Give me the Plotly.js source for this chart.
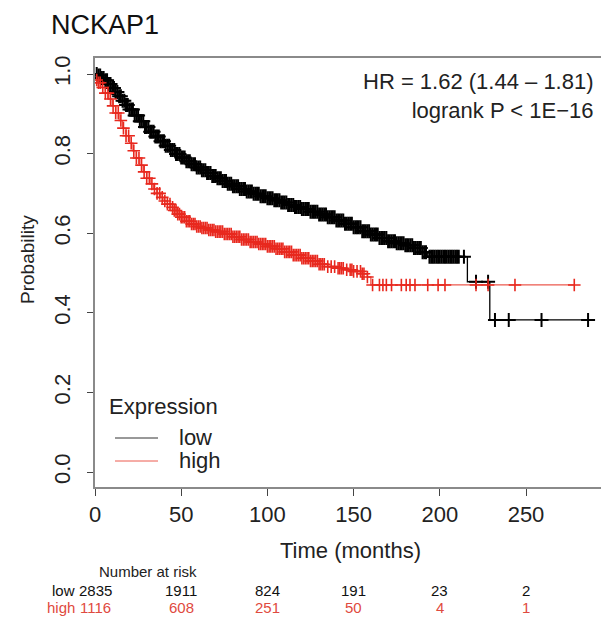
<!DOCTYPE html>
<html>
<head>
<meta charset="utf-8">
<script src="https://cdn.plot.ly/plotly-3.0.1.min.js"></script>
<style>html,body{margin:0;padding:0;background:#fff;}#chart{width:601px;height:617px;}</style>
</head>
<body>
<div id="chart"></div>
<script>
// ---- data ----
const lowTimes = [0,2,4,6,8,10,12,14,16,18,20,23,26,29,32,35,38,41,44,47,50,53,56,59,62,65,68,71,74,77,80,84,88,92,96,100,104,108,112,116,120,125,130,135,140,145,150,155,160,165,170,175,180,185,190,193,216,229,286];
const lowSurv  = [1.0,0.996,0.99,0.984,0.975,0.965,0.955,0.944,0.933,0.922,0.911,0.896,0.881,0.867,0.855,0.843,0.831,0.820,0.809,0.799,0.790,0.781,0.773,0.765,0.758,0.751,0.744,0.738,0.731,0.724,0.718,0.711,0.705,0.699,0.693,0.688,0.683,0.677,0.671,0.666,0.661,0.654,0.647,0.640,0.632,0.624,0.615,0.605,0.597,0.588,0.580,0.575,0.570,0.563,0.552,0.541,0.478,0.382,0.382];
const highTimes = [0,1,2,4,6,8,10,12,14,16,18,20,22,24,26,28,30,32,34,36,38,40,42,44,46,48,50,53,56,59,62,66,70,75,80,85,90,95,100,105,110,115,120,125,130,135,140,145,150,155,158,160,278];
const highSurv  = [1.0,0.985,0.978,0.966,0.952,0.937,0.92,0.902,0.883,0.864,0.845,0.826,0.807,0.789,0.771,0.754,0.738,0.724,0.711,0.700,0.690,0.681,0.673,0.665,0.657,0.648,0.640,0.630,0.623,0.617,0.613,0.608,0.604,0.598,0.591,0.584,0.578,0.573,0.567,0.561,0.553,0.545,0.537,0.530,0.522,0.516,0.512,0.508,0.504,0.498,0.49,0.47,0.47];
const lowCensor = [1,2,3,4,5,6,7,8,9,10,11,12,13,14,15,16,17,18,19,20,21,22,23,24,25,26,27,28,29,30,31,32,33,34,35,36,37,38,39,40,41,42,43,44,45,46,47,48,49,50,51,52,53,54,55,56,57,58,59,60,61,62,63,64,65,66,67,68,69,70,71,72,73,74,75,76,77,78,79,80,81,82,83,84,85,86,87,88,89,90,91,92,93,94,95,96,97,98,99,100,101,102,103,104,105,106,107,108,109,110,111,112,113,114,115,116,117,118,119,120,121,122,123,124,125,126,127,128,129,130,131,132,133,134,135,136,137,138,139,140,141,142,143,144,145,146,147,148,149,150,151,152,153,154,155,156,157,158,159,160,161,162,163,164,165,166,167,168,169,170,171,172,173,174,175,176,177,178,179,180,181,182,183,184,185,186,187,188,189,190,191,192,194,195,196,197,198,199,200,201,202,203,204,205,206,207,208,209,210,211,214,221,228,232,240,259,286];
const highCensor = [1,2,3,4.5,6,7.5,9,10.5,12,13.5,15,16.5,18,19.5,21,22.5,24,25.5,27,28.5,30,31.5,33,34.5,36,37.5,39,40.5,42,43.5,45,46,47,48,49,50,51,52,53,54,55,56,57,58,59,60,61,62,63,64,65,66,67,68,69,70,71,72,73,74,75,76,77,78,79,80,81,82,83,84,85,86,87,88,89,90,91,92,93,94,95,96,97,98,99,100,101,102,103,104,105,106,107,108,109,110,111,112,113,114,115,116,117,118,119,120,121,122,123,124,125,126,127,128,129,130,131,132,133,135,137,139,141,142,143,144,146,148,149,150,152,154,155,156,158,161,165,167,169,172,177.7,180.5,182.7,185.6,193,199,203,221,228,243.6,278];
const riskTimes = [0,50,100,150,200,250];
const lowRisk = [2835,1911,824,191,23,2];
const highRisk = [1116,608,251,50,4,1];
const xTicks = [0,50,100,150,200,250];
const yTicks = [0,0.2,0.4,0.6,0.8,1.0];
const yTickText = ["0.0","0.2","0.4","0.6","0.8","1.0"];

// ---- helpers ----
function survAt(times, surv, t){ let s = surv[0]; for(let i=0;i<times.length;i++){ if(times[i]<=t) s = surv[i]; } return s; }

const BLACK = '#000000', RED = '#e8281e', RISKRED = '#df4a40';
const FONT = 'Liberation Sans, Arial, Helvetica, sans-serif';

const traces = [
  {x: lowTimes, y: lowSurv, mode:'lines', line:{shape:'hv', color:BLACK, width:1.3}, hoverinfo:'skip', showlegend:false},
  {x: highTimes, y: highSurv, mode:'lines', line:{shape:'hv', color:'#ec5a4f', width:1.3}, hoverinfo:'skip', showlegend:false},
  {x: lowCensor, y: lowCensor.map(t=>survAt(lowTimes,lowSurv,t)), mode:'markers',
   marker:{symbol:'cross-thin-open', size:10, color:BLACK, line:{color:BLACK, width:2}}, hoverinfo:'skip', showlegend:false},
  {x: highCensor, y: highCensor.map(t=>survAt(highTimes,highSurv,t)), mode:'markers',
   marker:{symbol:'cross-thin-open', size:9, color:RED, line:{color:RED, width:1.6}}, hoverinfo:'skip', showlegend:false}
];

// plot area: x 95..601 px, y 58..487 px
const PL=95, PT=58, PB=487, PW=506, PH=429;
const px2x = p => (p-PL)/PW;
const py2y = p => (PB-p)/PH;

const annotations = [
  {text:'NCKAP1', xref:'paper', yref:'paper', x:px2x(49), y:py2y(25), xanchor:'left', yanchor:'middle', showarrow:false, font:{family:FONT, size:27, color:'#111'}},
  {text:'HR = 1.62 (1.44 \u2013 1.81)<br>logrank P < 1E\u221216', xref:'paper', yref:'paper', x:px2x(596), y:py2y(96), xanchor:'right', yanchor:'middle', align:'right', showarrow:false, font:{family:FONT, size:22, color:'#222'}},
  {text:'Probability', xref:'paper', yref:'paper', x:px2x(27), y:py2y(260), xanchor:'center', yanchor:'middle', textangle:-90, showarrow:false, font:{family:FONT, size:19, color:'#222'}},
  {text:'Time (months)', xref:'paper', yref:'paper', x:px2x(350), y:py2y(550), xanchor:'center', yanchor:'middle', showarrow:false, font:{family:FONT, size:22, color:'#222'}},
  {text:'Expression', xref:'paper', yref:'paper', x:px2x(107), y:py2y(406), xanchor:'left', yanchor:'middle', showarrow:false, font:{family:FONT, size:22, color:'#222'}},
  {text:'low', xref:'paper', yref:'paper', x:px2x(177), y:py2y(437), xanchor:'left', yanchor:'middle', showarrow:false, font:{family:FONT, size:22, color:'#222'}},
  {text:'high', xref:'paper', yref:'paper', x:px2x(177), y:py2y(460), xanchor:'left', yanchor:'middle', showarrow:false, font:{family:FONT, size:22, color:'#222'}},
  {text:'Number at risk', xref:'paper', yref:'paper', x:px2x(97), y:py2y(571), xanchor:'left', yanchor:'middle', showarrow:false, font:{family:FONT, size:15, color:'#222'}},
  {text:'low', xref:'paper', yref:'paper', x:px2x(77), y:py2y(590), xanchor:'right', yanchor:'middle', showarrow:false, font:{family:FONT, size:15, color:'#111'}},
  {text:'high', xref:'paper', yref:'paper', x:px2x(77), y:py2y(607), xanchor:'right', yanchor:'middle', showarrow:false, font:{family:FONT, size:15, color:RISKRED}}
];
riskTimes.forEach((t,i)=>{
  annotations.push({text:String(lowRisk[i]), xref:'x', yref:'paper', x:t, y:py2y(590), xanchor:'center', yanchor:'middle', showarrow:false, font:{family:FONT, size:15, color:'#111'}});
  annotations.push({text:String(highRisk[i]), xref:'x', yref:'paper', x:t, y:py2y(607), xanchor:'center', yanchor:'middle', showarrow:false, font:{family:FONT, size:15, color:RISKRED}});
});

const shapes = [
  {type:'line', xref:'paper', yref:'paper', x0:px2x(115), x1:px2x(158), y0:py2y(438), y1:py2y(438), line:{color:'#333', width:1}},
  {type:'line', xref:'paper', yref:'paper', x0:px2x(115), x1:px2x(158), y0:py2y(461), y1:py2y(461), line:{color:'#ec5a4f', width:1}}
];

const layout = {
  width:601, height:617,
  margin:{l:PL, r:0, t:PT, b:617-PB, pad:0},
  paper_bgcolor:'#fff', plot_bgcolor:'#fff',
  showlegend:false,
  font:{family:FONT, size:22, color:'#222'},
  xaxis:{range:[0,293.5], tickvals:xTicks, ticktext:xTicks.map(String), ticks:'outside', ticklen:7, tickwidth:1, tickcolor:'#444',
         showline:true, linecolor:'#8a8a8a', linewidth:2, mirror:true, showgrid:false, zeroline:false,
         tickfont:{family:FONT, size:22, color:'#222'}, ticklabelstandoff:0, fixedrange:true},
  yaxis:{range:[-0.0377,1.0402], tickvals:yTicks, ticktext:yTickText, ticks:'outside', ticklen:6, tickwidth:1, tickcolor:'#444',
         showline:true, linecolor:'#8a8a8a', linewidth:2, showgrid:false, zeroline:false, tickangle:-90,
         tickfont:{family:FONT, size:22, color:'#222'}, ticklabelstandoff:8, fixedrange:true},
  annotations: annotations,
  shapes: shapes
};

Plotly.newPlot('chart', traces, layout, {staticPlot:true, displayModeBar:false});
</script>
</body>
</html>
